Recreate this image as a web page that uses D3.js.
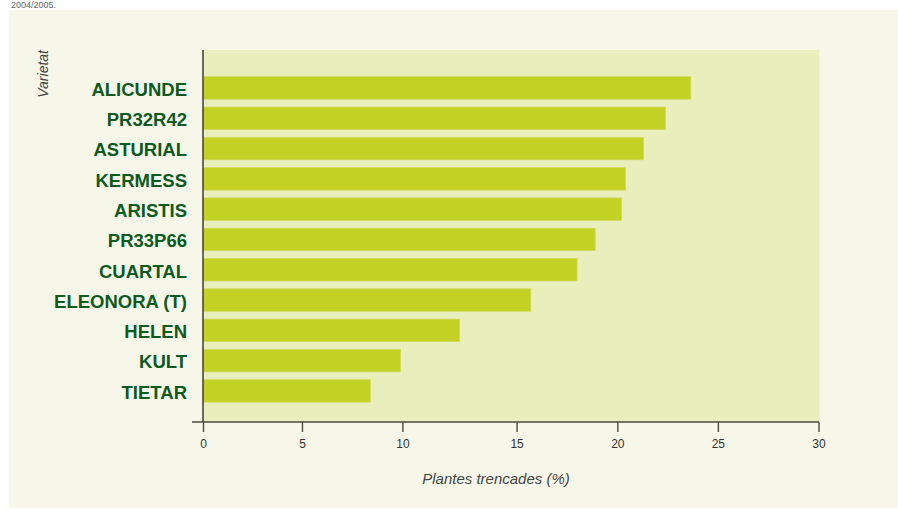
<!DOCTYPE html>
<html>
<head>
<meta charset="utf-8">
<script src="https://cdn.jsdelivr.net/npm/d3@7"></script>
<style>
  html, body { margin: 0; padding: 0; background: #ffffff; }
  svg { display: block; }
</style>
</head>
<body>
<svg id="chart" width="898" height="510"></svg>
<script>
// ---- data ----
const categories = ["ALICUNDE", "PR32R42", "ASTURIAL", "KERMESS", "ARISTIS", "PR33P66", "CUARTAL", "ELEONORA (T)", "HELEN", "KULT", "TIETAR"];
const values = [23.65, 22.4, 21.3, 20.4, 20.2, 18.9, 18.0, 15.7, 12.5, 9.9, 8.4];
const xTicks = [0, 5, 10, 15, 20, 25, 30];
const xTitle = "Plantes trencades (%)";
const yTitle = "Varietat";
const captionTail = "2004/2005.";

// ---- layout ----
const svg = d3.select("#chart");
const plot = { left: 203, right: 819.5, top: 50, bottom: 422 };
// the original axis is drawn with uneven tick spacing; breakpoints as fractions of plot width
const tickFrac = [0, 0.1608, 0.3240, 0.5095, 0.6732, 0.8365, 1];
const pw = plot.right - plot.left - 1;

const x = d3.scaleLinear()
  .domain(xTicks)
  .range(tickFrac.map(f => plot.left + f * pw));

const y = d3.scaleBand()
  .domain(categories)
  .range([72.8, 406.1])
  .paddingInner(0.26)
  .paddingOuter(0.13);

// outer panel
svg.append("rect")
  .attr("x", 9).attr("y", 10).attr("width", 889).attr("height", 498)
  .attr("fill", "#f7f7e9");

// caption remnant at top
svg.append("text")
  .attr("x", 11).attr("y", 8)
  .attr("font-family", "Liberation Sans, Arial, sans-serif")
  .attr("font-size", 9)
  .attr("fill", "#666")
  .text(captionTail);

// plot background
svg.append("rect")
  .attr("x", plot.left).attr("y", plot.top)
  .attr("width", plot.right - plot.left).attr("height", plot.bottom - plot.top)
  .attr("fill", "#e9eebd");

// bars
svg.append("g").selectAll("rect")
  .data(categories)
  .join("rect")
  .attr("x", x(0))
  .attr("y", d => y(d))
  .attr("width", (d, i) => x(values[i]) - x(0))
  .attr("height", y.bandwidth())
  .attr("fill", "#c3d024")
  .attr("stroke", "#cfd95a")
  .attr("stroke-width", 0.8);

// category labels
svg.append("g").selectAll("text")
  .data(categories)
  .join("text")
  .attr("x", 187)
  .attr("y", d => y(d) + y.bandwidth() / 2)
  .attr("dy", "0.42em")
  .attr("text-anchor", "end")
  .attr("font-family", "Liberation Sans, Arial, Helvetica, sans-serif")
  .attr("font-weight", "bold")
  .attr("font-size", 18.5)
  .attr("fill", "#0d5a1f")
  .text(d => d);

// x axis
const xAxis = svg.append("g")
  .attr("transform", `translate(0,${plot.bottom})`)
  .call(d3.axisBottom(x).tickValues(xTicks).tickSize(10).tickPadding(7).tickFormat(d3.format("d")));
xAxis.select(".domain").remove();
xAxis.selectAll(".tick line").attr("stroke", "#4a4a3c").attr("stroke-width", 1.4);
xAxis.selectAll(".tick text")
  .attr("font-family", "Liberation Sans, Arial, sans-serif")
  .attr("font-size", 12)
  .attr("fill", "#333");
xAxis.append("line")
  .attr("x1", 192).attr("x2", x(30) + 0.5)
  .attr("y1", 0).attr("y2", 0)
  .attr("stroke", "#4a4a3c").attr("stroke-width", 1.4);

// y axis line
svg.append("line")
  .attr("x1", x(0)).attr("x2", x(0))
  .attr("y1", plot.top).attr("y2", plot.bottom)
  .attr("stroke", "#4a4a3c").attr("stroke-width", 1.6);

// axis titles
svg.append("text")
  .attr("x", 496).attr("y", 484)
  .attr("text-anchor", "middle")
  .attr("font-family", "Liberation Sans, Arial, sans-serif")
  .attr("font-style", "italic")
  .attr("font-size", 15)
  .attr("fill", "#444")
  .text(xTitle);

svg.append("text")
  .attr("transform", `translate(48,${plot.top}) rotate(-90)`)
  .attr("text-anchor", "end")
  .attr("font-family", "Liberation Sans, Arial, sans-serif")
  .attr("font-style", "italic")
  .attr("font-size", 14)
  .attr("fill", "#444")
  .text(yTitle);
</script>
</body>
</html>
